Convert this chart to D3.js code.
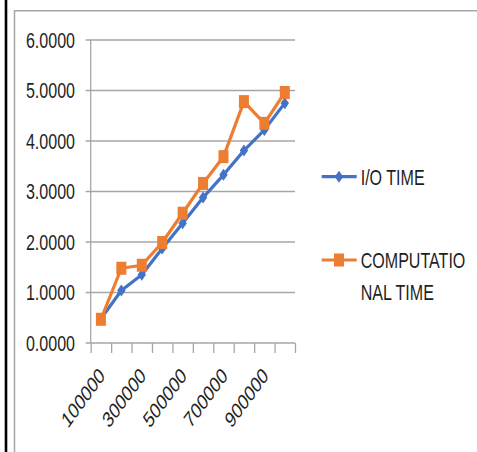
<!DOCTYPE html>
<html>
<head>
<meta charset="utf-8">
<script src="https://cdn.jsdelivr.net/npm/d3@7"></script>
<style>
  body { margin: 0; background: #fff; }
  text { font-family: "Liberation Sans", Arial, sans-serif; fill: #1f1f1f; }
</style>
</head>
<body>
<div id="chart"></div>
<script>
// data
var categories = ["100000","200000","300000","400000","500000","600000","700000","800000","900000","1000000"];
var ioTime   = [0.48, 1.04, 1.35, 1.87, 2.37, 2.88, 3.33, 3.81, 4.22, 4.75];
var compTime = [0.47, 1.48, 1.54, 1.99, 2.57, 3.16, 3.69, 4.78, 4.35, 4.96];
var yTicks = [0, 1, 2, 3, 4, 5, 6];
var seriesNames = ["I/O TIME", ["COMPUTATIO", "NAL TIME"]];

var W = 477, H = 452;
var sx = 0.73; // picture is squeezed sideways
var fs = 22;

var svg = d3.select("div#chart").append("svg")
  .attr("width", W).attr("height", H);

// frame
svg.append("rect").attr("x", 4.7).attr("y", 0).attr("width", 2.6).attr("height", H).attr("fill", "#000");
svg.append("line").attr("x1", 14.5).attr("x2", 14.5).attr("y1", 10).attr("y2", H)
  .attr("stroke", "#a6a6a6").attr("stroke-width", 1.5);
svg.append("line").attr("x1", 14).attr("x2", W).attr("y1", 10.7).attr("y2", 10.7)
  .attr("stroke", "#a6a6a6").attr("stroke-width", 1.5);

var pLeft = 90.7, pRight = 295, pTop = 40, pBottom = 343;

var x = d3.scaleBand().domain(categories).range([pLeft, pRight]);
var xEdge = d3.scaleLinear().domain([0, categories.length]).range([pLeft, pRight]);
var y = d3.scaleLinear().domain([0, 6]).range([pBottom, pTop]);

// gridlines + y ticks
svg.selectAll(".grid").data(yTicks).enter().append("line")
  .attr("x1", pLeft - 5).attr("x2", pRight)
  .attr("y1", function(d){ return y(d); }).attr("y2", function(d){ return y(d); })
  .attr("stroke", "#a6a6a6").attr("stroke-width", 1.3);

svg.selectAll(".ylab").data(yTicks).enter().append("text")
  .attr("text-anchor", "end")
  .attr("font-size", fs)
  .attr("transform", function(d){ return "translate(75," + (y(d) + 7.6) + ") scale(" + sx + ",1)"; })
  .text(function(d){ return d3.format(".4f")(d); });

// y axis line
svg.append("line").attr("x1", pLeft).attr("x2", pLeft).attr("y1", pTop).attr("y2", pBottom)
  .attr("stroke", "#a6a6a6").attr("stroke-width", 1.3);

// x axis ticks
var xa = svg.append("g").attr("transform", "translate(0," + pBottom + ")")
  .call(d3.axisBottom(xEdge).tickValues(d3.range(categories.length + 1)).tickSize(10).tickFormat(""));
xa.select(".domain").remove();
xa.selectAll("line").attr("stroke", "#a6a6a6").attr("stroke-width", 1.3);

svg.selectAll(".xlab").data(categories.filter(function(d, i){ return i % 2 == 0; })).enter().append("text")
  .attr("text-anchor", "end")
  .attr("font-size", fs)
  .attr("transform", function(d){
    return "translate(" + (x(d) + x.bandwidth()/2 + 5) + ",377) scale(" + sx + ",1) rotate(-45)";
  })
  .text(function(d){ return d; });

// lines
var line = d3.line()
  .x(function(d, i){ return x(categories[i]) + x.bandwidth()/2; })
  .y(function(d){ return y(d); });

var diamond = "M0,-6L4.2,0L0,6L-4.2,0Z";
var square = "M-5,-6.5L5,-6.5L5,6.5L-5,6.5Z";

function drawSeries(vals, color, shape, cls) {
  svg.append("path").datum(vals).attr("d", line)
    .attr("fill", "none").attr("stroke", color).attr("stroke-width", 3.2).attr("stroke-linejoin", "round");
  svg.selectAll("." + cls).data(vals).enter().append("path")
    .attr("class", cls)
    .attr("d", shape)
    .attr("fill", color)
    .attr("transform", function(d, i){ return "translate(" + (x(categories[i]) + x.bandwidth()/2) + "," + y(d) + ")"; });
}
drawSeries(ioTime, "#4472c4", diamond, "pio");
drawSeries(compTime, "#ed7d31", square, "pcomp");

// legend
var lg = [{y: 176.7, color: "#4472c4", shape: diamond, lines: [seriesNames[0]]},
          {y: 260, color: "#ed7d31", shape: square, lines: seriesNames[1]}];
lg.forEach(function(l){
  svg.append("line").attr("x1", 321.7).attr("x2", 356.7).attr("y1", l.y).attr("y2", l.y)
    .attr("stroke", l.color).attr("stroke-width", 3.2);
  svg.append("path").attr("d", l.shape).attr("fill", l.color)
    .attr("transform", "translate(339," + l.y + ")");
  l.lines.forEach(function(t, k){
    svg.append("text").attr("font-size", fs)
      .attr("transform", "translate(360.7," + (l.y + 8 + k * 31.6) + ") scale(" + sx + ",1)")
      .text(t);
  });
});
</script>
</body>
</html>
